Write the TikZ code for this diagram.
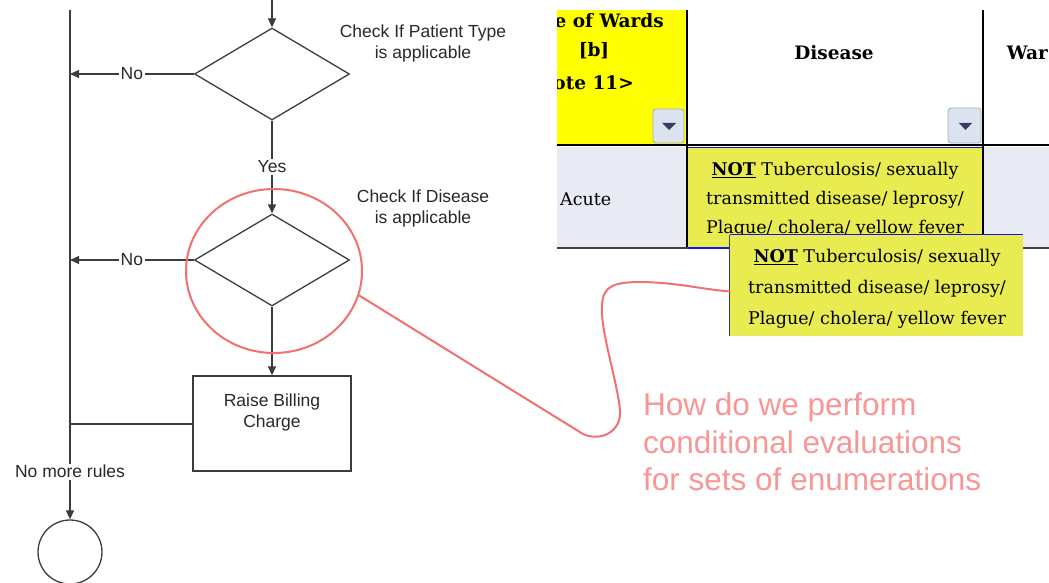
\documentclass[tikz,border=0pt]{standalone}
\usepackage{fontspec}
\setmainfont{Liberation Sans}
\newfontfamily\tabfont{DejaVu Serif}
\usetikzlibrary{shapes.geometric,arrows.meta}

\definecolor{flow}{RGB}{60,60,60}
\definecolor{flowtext}{RGB}{40,40,40}
\definecolor{markred}{RGB}{242,112,112}
\definecolor{notered}{RGB}{248,150,150}
\definecolor{hdryellow}{RGB}{255,255,0}
\definecolor{cellyellow}{RGB}{233,236,80}
\definecolor{rowbg}{RGB}{232,234,244}
\definecolor{ddfill}{RGB}{221,227,238}
\definecolor{ddedge}{RGB}{160,174,200}
\definecolor{ddarrow}{RGB}{50,60,100}
\definecolor{selblue}{RGB}{20,20,230}

\begin{document}
\begin{tikzpicture}[x=1pt,y=-1pt,
  flowline/.style={draw=flow,line width=1.3pt},
  arr/.style={flowline,-{Triangle[length=9pt,width=8pt]}},
  decision/.style={shape=diamond,draw=flow,line width=1.3pt,
    minimum width=155pt,minimum height=92pt,inner sep=0pt,aspect=1.685},
  process/.style={draw=flow,line width=1.3pt,minimum width=158pt,
    minimum height=95pt,inner sep=0pt},
  terminal/.style={circle,draw=flow,line width=1.3pt,minimum size=64pt,inner sep=0pt},
  lbl/.style={font=\fontsize{17.5}{21}\selectfont,text=flowtext,align=center,inner sep=1pt},
  onl/.style={lbl,fill=white,inner sep=1.5pt},
  hdr/.style={font=\tabfont\bfseries\fontsize{18.5}{22}\selectfont,text=black,inner sep=0pt},
  celltxt/.style={font=\tabfont\fontsize{17.5}{29}\selectfont,text=black,align=center,inner sep=0pt},
  dropdown/.style={draw=ddedge,fill=ddfill,line width=0.8pt,rounded corners=3pt},
  note/.style={draw=markred,line width=2pt},
]
\useasboundingbox (0,0) rectangle (1049,583);

% ---------------- flowchart ----------------
\coordinate (top) at (70,10);
\coordinate (j1) at (70,74);
\coordinate (j2) at (70,260);
\coordinate (j3) at (70,424);
\coordinate (entry) at (272,0);

\node[decision] (d1) at (272,74) {};
\node[decision] (d2) at (272,260) {};
\node[process] (bill) at (272,423.5) {};
\node[lbl] (billtxt) at (272,412) {Raise Billing\\Charge};
\node[terminal] (end) at (70,552) {};

\node[lbl] (q1) at (423,43) {Check If Patient Type\\is applicable};
\node[lbl] (q2) at (423,208) {Check If Disease\\is applicable};

\draw[draw=flow,line width=2.2pt] (top) -- (j3);
\draw[arr] (j3) -- node[onl] {No more rules} (end.north);

\draw[arr] (entry) -- (d1.north);
\draw[arr] (d1.west) -- node[onl] {No} (j1);
\draw[arr] (d1.south) -- node[onl] {Yes} (d2.north);
\draw[arr] (d2.west) -- node[onl] {No} (j2);
\draw[arr] (d2.south) -- (bill.north);
\draw[flowline] (bill.west |- j3) -- (j3);

% ---------------- spreadsheet excerpt ----------------
\begin{scope}
  \clip (557,0) rectangle (1049,583);
  \fill[hdryellow] (557,10) rectangle (687,145);
  \fill[rowbg] (557,147) rectangle (1049,248);
  \fill[cellyellow] (687,147) rectangle (983,248);

  \node[hdr,anchor=east] (wardsA) at (664,23) {Type of Wards};
  \node[hdr] (wardsB) at (594,51) {[b]};
  \node[hdr,anchor=east] (wardsC) at (634,83) {<Note 11>};
  \node[hdr] (disease) at (834,53) {Disease};
  \node[hdr,anchor=east] (ward2) at (1048,53) {War};

  \node[celltxt,font=\tabfont\fontsize{17.5}{21}\selectfont,anchor=west] (acute) at (560,199) {Acute};
  \node[celltxt] (cell) at (835,200)
    {\underline{\textbf{NOT}} Tuberculosis/ sexually\\transmitted disease/ leprosy/\\Plague/ cholera/ yellow fever};

  \draw[black,line width=1.3pt] (687,10) -- (687,248);
  \draw[black,line width=1.3pt] (983,10) -- (983,248);
  \draw[black,line width=2.5pt] (557,145) -- (1049,145);
  \draw[selblue,line width=1.2pt] (688,147.5) -- (982,147.5);
  \draw[black!75,line width=1.5pt] (557,248) -- (1049,248);
  \draw[selblue,line width=1.5pt] (688,248) -- (983,248);

  \draw[dropdown] (653,109) rectangle (684,143);
  \fill[ddarrow] (662,123) -- (676,123) -- (669,130) -- cycle;
  \draw[dropdown] (948,108) rectangle (981,143);
  \fill[ddarrow] (959,123) -- (972,123) -- (965.5,130) -- cycle;
\end{scope}

% enlarged cell value
\node[fill=cellyellow,minimum width=293pt,minimum height=101pt,inner sep=0pt] (popup) at (876.5,285.5) {};
\node[celltxt,font=\tabfont\fontsize{17.5}{31}\selectfont] (popuptxt) at (877,288.5)
  {\underline{\textbf{NOT}} Tuberculosis/ sexually\\transmitted disease/ leprosy/\\Plague/ cholera/ yellow fever};
\draw[black!75,line width=1.2pt] (popup.north west) -- (popup.south west);
\draw[selblue,line width=1.2pt] (popup.north west) -- (popup.north east);

% ---------------- annotation ----------------
\node[note,ellipse,minimum width=176pt,minimum height=164pt,inner sep=0pt] (focus) at (274,271) {};
\draw[note,line cap=round] (focus.-16) -- (583,434)
  .. controls (600,442) and (622,432) .. (620,410)
  .. controls (617,380) and (600,330) .. (602,305)
  .. controls (603,285) and (615,282) .. (643,282)
  .. controls (680,283) and (700,289) .. ([yshift=-6pt]popup.west);
\node[font=\fontsize{31.5}{37.5}\selectfont,text=notered,align=left,anchor=west,inner sep=0pt]
  (question) at (643,442) {How do we perform\\conditional evaluations\\for sets of enumerations};
\end{tikzpicture}
\end{document}
